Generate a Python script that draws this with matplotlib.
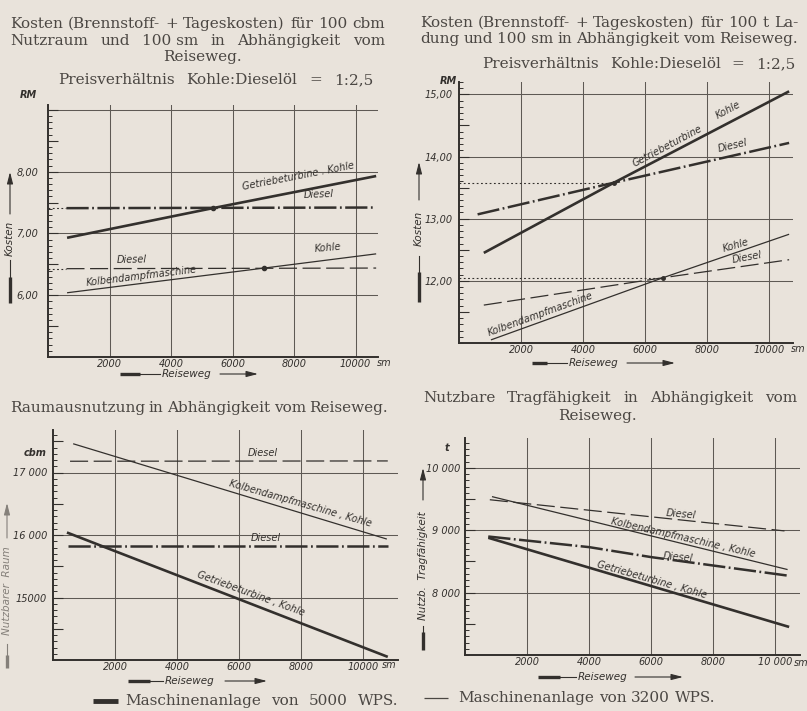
import matplotlib
matplotlib.use('Agg')
import matplotlib.pyplot as plt
from matplotlib.ticker import MultipleLocator

W, H = 807, 711
BG = '#e9e3db'
INK = '#33302d'
GRID = '#5e5954'
TXT = '#4b4743'

plt.rcParams['lines.scale_dashes'] = False
plt.rcParams['font.family'] = ['DejaVu Sans']

# ---------------- data ----------------
x_ticks = [2000, 4000, 6000, 8000, 10000]

# Panel 1: Kosten fuer 100 cbm Nutzraum und 100 sm (RM)
p1_y_ticks = [5.5, 6, 6.5, 7, 7.5, 8, 8.5, 9]
p1_y_ticklabels = ['', '6,00', '', '7,00', '', '8,00', '', '']
p1_y_grid = [6, 7, 8, 9]
p1_x_ticklabels = ['2000', '4000', '6000', '8000', '10000']
p1_getr_kohle_x = [620, 5360, 10670]
p1_getr_kohle_y = [6.93, 7.41, 7.93]
p1_getr_diesel_x = [600, 10670]
p1_getr_diesel_y = [7.41, 7.42]
p1_getr_diesel_ref_x = [0, 600]
p1_getr_diesel_ref_y = [7.41, 7.41]
p1_kolb_kohle_x = [620, 7030, 10670]
p1_kolb_kohle_y = [6.04, 6.44, 6.67]
p1_kolb_diesel_x = [600, 10670]
p1_kolb_diesel_y = [6.43, 6.44]
p1_kolb_diesel_ref_x = [0, 600]
p1_kolb_diesel_ref_y = [6.43, 6.43]
p1_points_x = [5360, 7030]
p1_points_y = [7.41, 6.44]

# Panel 2: Kosten fuer 100 t Ladung und 100 sm (RM)
p2_y_ticks = [11.5, 12, 12.5, 13, 13.5, 14, 14.5, 15]
p2_y_ticklabels = ['', '12,00', '', '13,00', '', '14,00', '', '15,00']
p2_y_grid = [12, 13, 14, 15]
p2_x_ticklabels = ['2000', '4000', '6000', '8000', '10000']
p2_getr_kohle_x = [800, 5000, 10650]
p2_getr_kohle_y = [12.45, 13.58, 15.05]
p2_getr_diesel_x = [600, 5000, 10650]
p2_getr_diesel_y = [13.07, 13.58, 14.22]
p2_kolb_kohle_x = [1030, 6580, 10650]
p2_kolb_kohle_y = [11.05, 12.05, 12.75]
p2_kolb_diesel_x = [800, 6580, 10650]
p2_kolb_diesel_y = [11.61, 12.05, 12.34]
p2_ref1_x = [0, 5000]
p2_ref1_y = [13.58, 13.58]
p2_ref2_x = [0, 6580]
p2_ref2_y = [12.05, 12.05]
p2_points_x = [5000, 6580]
p2_points_y = [13.58, 12.05]

# Panel 3: Nutzbarer Raum (cbm)
p3_y_ticks = [14500, 15000, 15500, 16000, 16500, 17000, 17500]
p3_y_ticklabels = ['', '15000', '', '16 000', '', '17 000', '']
p3_y_grid = [15000, 16000, 17000]
p3_x_ticklabels = ['2000', '4000', '6000', '8000', '10000']
p3_kolb_diesel_x = [550, 10800]
p3_kolb_diesel_y = [17180, 17185]
p3_kolb_kohle_x = [650, 10770]
p3_kolb_kohle_y = [17460, 15935]
p3_getr_diesel_x = [480, 10800]
p3_getr_diesel_y = [15820, 15820]
p3_getr_kohle_x = [450, 10800]
p3_getr_kohle_y = [16040, 14050]

# Panel 4: Nutzbare Tragfaehigkeit (t)
p4_y_ticks = [7500, 8000, 8500, 9000, 9500, 10000]
p4_y_ticklabels = ['', '8 000', '', '9 000', '', '10 000']
p4_y_grid = [8000, 9000, 10000]
p4_x_ticklabels = ['2000', '4000', '6000', '8000', '10 000']
p4_kolb_diesel_x = [800, 10300]
p4_kolb_diesel_y = [9490, 8990]
p4_kolb_kohle_x = [870, 10400]
p4_kolb_kohle_y = [9540, 8370]
p4_getr_diesel_x = [750, 4000, 6000, 10450]
p4_getr_diesel_y = [8900, 8730, 8570, 8270]
p4_getr_kohle_x = [750, 10450]
p4_getr_kohle_y = [8880, 7450]

# ---------------- styles ----------------
THICK = dict(color=INK, lw=1.9, solid_capstyle='butt')
THIN = dict(color=INK, lw=0.9, solid_capstyle='butt')
DASHDOT = dict(color=INK, lw=1.8, dashes=(16, 2.5, 1.3, 2.5), dash_capstyle='butt')
DASHED = dict(color=INK, lw=0.9, dashes=(13, 4), dash_capstyle='butt')
DOTTED = dict(color=INK, lw=0.8, dashes=(1.3, 1.8))

fig = plt.figure(figsize=(W / 100, H / 100), dpi=100, facecolor=BG)


def add_ax(x0, x1, ytop, ybot):
    return fig.add_axes([x0 / W, 1 - ybot / H, (x1 - x0) / W, (ybot - ytop) / H])


def style(ax, xlim, ylim, yt, ytl, ygrid, minor, xtl, ypad):
    ax.set_facecolor('none')
    for s in ['top', 'right']:
        ax.spines[s].set_visible(False)
    for s in ['left', 'bottom']:
        ax.spines[s].set_color(INK)
        ax.spines[s].set_linewidth(1.4)
    ax.set_xlim(*xlim)
    ax.set_ylim(*ylim)
    ax.set_xticks(x_ticks, xtl, fontsize=7, fontstyle='italic', color=INK)
    ax.set_yticks(yt, ytl, fontsize=7, fontstyle='italic', color=INK)
    ax.yaxis.set_minor_locator(MultipleLocator(minor))
    ax.tick_params(axis='x', length=0, pad=1.5)
    ax.tick_params(axis='y', which='major', direction='in', length=7, width=0.8,
                   color=INK, pad=ypad)
    ax.tick_params(axis='y', which='minor', direction='in', length=3, width=0.7,
                   color=INK)
    for v in ygrid:
        ax.axhline(v, color=GRID, lw=0.75, zorder=1)
    for v in x_ticks:
        ax.axvline(v, color=GRID, lw=0.75, zorder=1)


# Panel 1
ax1 = add_ax(48, 378, 105, 357)
style(ax1, (0, 10730), (5.0, 9.08), p1_y_ticks, p1_y_ticklabels, p1_y_grid, 0.1,
      p1_x_ticklabels, 7)
ax1.plot(p1_getr_kohle_x, p1_getr_kohle_y, **THICK)
ax1.plot(p1_getr_diesel_x, p1_getr_diesel_y, **DASHDOT)
ax1.plot(p1_getr_diesel_ref_x, p1_getr_diesel_ref_y, **DOTTED)
ax1.plot(p1_kolb_kohle_x, p1_kolb_kohle_y, **THIN)
ax1.plot(p1_kolb_diesel_x, p1_kolb_diesel_y, **DASHED)
ax1.plot(p1_kolb_diesel_ref_x, p1_kolb_diesel_ref_y, **DOTTED)
ax1.plot(p1_points_x, p1_points_y, 'o', ms=3, mfc=INK, mec=INK, ls='none')

# Panel 2
ax2 = add_ax(459, 793, 82, 343)
style(ax2, (0, 10775), (11.0, 15.2), p2_y_ticks, p2_y_ticklabels, p2_y_grid, 0.1,
      p2_x_ticklabels, 4.5)
ax2.plot(p2_getr_kohle_x, p2_getr_kohle_y, **THICK)
ax2.plot(p2_getr_diesel_x, p2_getr_diesel_y, **DASHDOT)
ax2.plot(p2_kolb_kohle_x, p2_kolb_kohle_y, **THIN)
ax2.plot(p2_kolb_diesel_x, p2_kolb_diesel_y, **DASHED)
ax2.plot(p2_ref1_x, p2_ref1_y, **DOTTED)
ax2.plot(p2_ref2_x, p2_ref2_y, **DOTTED)
ax2.plot(p2_points_x, p2_points_y, 'o', ms=2.5, mfc=INK, mec=INK, ls='none')

# Panel 3
ax3 = add_ax(53, 398, 430, 660)
style(ax3, (0, 11130), (14000, 17680), p3_y_ticks, p3_y_ticklabels, p3_y_grid, 100,
      p3_x_ticklabels, 4.3)
ax3.plot(p3_kolb_diesel_x, p3_kolb_diesel_y, **DASHED)
ax3.plot(p3_kolb_kohle_x, p3_kolb_kohle_y, **THIN)
ax3.plot(p3_getr_diesel_x, p3_getr_diesel_y, **DASHDOT)
ax3.plot(p3_getr_kohle_x, p3_getr_kohle_y, **THICK)

# Panel 4
ax4 = add_ax(465, 800, 438, 655)
style(ax4, (0, 10800), (7000, 10480), p4_y_ticks, p4_y_ticklabels, p4_y_grid, 100,
      p4_x_ticklabels, 3.6)
ax4.plot(p4_kolb_diesel_x, p4_kolb_diesel_y, **DASHED)
ax4.plot(p4_kolb_kohle_x, p4_kolb_kohle_y, **THIN)
ax4.plot(p4_getr_diesel_x, p4_getr_diesel_y, **DASHDOT)
ax4.plot(p4_getr_kohle_x, p4_getr_kohle_y, **THICK)

# ---------------- overlay for text (pixel coordinates) ----------------
ov = fig.add_axes([0, 0, 1, 1])
ov.set_xlim(0, W)
ov.set_ylim(H, 0)
ov.axis('off')
ov.set_zorder(10)
renderer = fig.canvas.get_renderer()

SERIF = dict(fontfamily='DejaVu Serif', fontsize=11, color=TXT)


def justify(words, x0, x1, yb, **kw):
    arts = [ov.text(0, yb, w, ha='left', va='baseline', **kw) for w in words]
    widths = [a.get_window_extent(renderer).width for a in arts]
    gap = (x1 - x0 - sum(widths)) / max(len(words) - 1, 1)
    x = x0
    for a, w in zip(arts, widths):
        a.set_x(x)
        x += w + gap


def center(line, xc, yb, **kw):
    ov.text(xc, yb, line, ha='center', va='baseline', **kw)


# titles
justify(['Kosten', '(Brennstoff-', '+', 'Tageskosten)', 'für', '100', 'cbm'],
        10, 385, 28, **SERIF)
justify(['Nutzraum', 'und', '100 sm', 'in', 'Abhängigkeit', 'vom'], 10, 385, 45, **SERIF)
center('Reiseweg.', 202, 61, **SERIF)
justify(['Preisverhältnis', 'Kohle:Dieselöl', '=', '1:2,5'], 58, 373, 84, **SERIF)

justify(['Kosten', '(Brennstoff-', '+', 'Tageskosten)', 'für', '100', 't', 'La-'],
        420, 798, 27, **SERIF)
justify(['dung', 'und', '100 sm', 'in', 'Abhängigkeit', 'vom', 'Reiseweg.'],
        420, 798, 43, **SERIF)
justify(['Preisverhältnis', 'Kohle:Dieselöl', '=', '1:2,5'], 482, 795, 68, **SERIF)

justify(['Raumausnutzung', 'in', 'Abhängigkeit', 'vom', 'Reiseweg.'], 10, 388, 412,
        **SERIF)

justify(['Nutzbare', 'Tragfähigkeit', 'in', 'Abhängigkeit', 'vom'], 423, 797, 402,
        **SERIF)
center('Reiseweg.', 597, 420, **SERIF)

justify(['Maschinenanlage', 'von', '5000', 'WPS.'], 125, 398, 705, **SERIF)
ov.plot([93, 118], [701, 701], color=INK, lw=3.5, solid_capstyle='butt')
justify(['Maschinenanlage', 'von', '3200', 'WPS.'], 458, 715, 702, **SERIF)
ov.plot([424, 448], [698, 698], color=TXT, lw=0.9, solid_capstyle='butt')

# small axis texts
SANS = dict(fontsize=7, fontstyle='italic', color=INK)
ov.text(28, 95, 'RM', ha='center', va='center', fontweight='bold', **SANS)
ov.text(448, 81, 'RM', ha='center', va='center', fontweight='bold', **SANS)
ov.text(35, 453, 'cbm', ha='center', va='center', fontweight='bold', **SANS)
ov.text(447, 448, 't', ha='center', va='center', fontweight='bold', **SANS)
ov.text(384, 363, 'sm', ha='center', va='center', **SANS)
ov.text(798, 349, 'sm', ha='center', va='center', **SANS)
ov.text(389, 665, 'sm', ha='center', va='center', **SANS)
ov.text(801, 663, 'sm', ha='center', va='center', **SANS)

ARROW = dict(arrowstyle='-|>,head_length=0.7,head_width=0.18', color=INK, lw=0.8,
             shrinkA=0, shrinkB=0, mutation_scale=10)


def xlabel_arrow(b0, b1, xt, a0, a1, y, text):
    ov.plot([b0, b1], [y, y], color=INK, lw=2.4, solid_capstyle='butt')
    ov.plot([b1, xt - 27], [y, y], color=INK, lw=0.8)
    ov.text(xt, y, text, ha='center', va='center', fontsize=7.5, fontstyle='italic',
            color=INK)
    ov.annotate('', xy=(a1, y), xytext=(a0, y), arrowprops=ARROW)


def ylabel_arrow(x, b0, b1, t0, t1, yt, a0, a1, text, fs=7.5, color=INK):
    ov.plot([x, x], [b0, b1], color=color, lw=2.4, solid_capstyle='butt')
    ov.plot([x, x], [t0, t1], color=color, lw=0.8)
    ov.text(x, yt, text, ha='center', va='center', rotation=90, fontsize=fs,
            fontstyle='italic', color=color)
    ov.annotate('', xy=(x, a1), xytext=(x, a0),
                arrowprops=dict(ARROW, color=color))


xlabel_arrow(120, 140, 187, 220, 258, 374, 'Reiseweg')
xlabel_arrow(532, 547, 594, 627, 675, 363, 'Reiseweg')
xlabel_arrow(128, 150, 190, 225, 267, 681, 'Reiseweg')
xlabel_arrow(538, 560, 603, 635, 683, 677, 'Reiseweg')

ylabel_arrow(10, 303, 277, 277, 260, 238, 214, 172, 'Kosten')
ylabel_arrow(419, 302, 272, 272, 256, 228, 200, 162, 'Kosten')
ylabel_arrow(7, 668, 655, 655, 644, 591, 538, 503, 'Nutzbarer  Raum', fs=7.5,
             color='#85807a')
ylabel_arrow(423, 650, 632, 632, 626, 566, 500, 468, 'Nutzb.  Tragfähigkeit')

# line labels
LAB = dict(fontsize=7, fontstyle='italic', color=INK, ha='center', va='center',
           rotation_mode='anchor')
ov.text(298, 176, 'Getriebeturbine . Kohle', rotation=11, **LAB)
ov.text(319, 194, 'Diesel', rotation=2, **LAB)
ov.text(132, 260, 'Diesel', rotation=1, **LAB)
ov.text(141, 276, 'Kolbendampfmaschine', rotation=7, **LAB)
ov.text(328, 248, 'Kohle', rotation=5, **LAB)

ov.text(667, 146, 'Getriebeturbine', rotation=28, **LAB)
ov.text(728, 110, 'Kohle', rotation=28, **LAB)
ov.text(733, 146, 'Diesel', rotation=13, **LAB)
ov.text(736, 245, 'Kohle', rotation=16, **LAB)
ov.text(747, 257, 'Diesel', rotation=10, **LAB)
ov.text(540, 314, 'Kolbendampfmaschine', rotation=20, **LAB)

ov.text(263, 453, 'Diesel', rotation=0, **LAB)
ov.text(300, 504, 'Kolbendampfmaschine , Kohle', rotation=-16, **LAB)
ov.text(266, 538, 'Diesel', rotation=0, **LAB)
ov.text(251, 594, 'Getriebeturbine , Kohle', rotation=-20, **LAB)

ov.text(681, 514, 'Diesel', rotation=-5, **LAB)
ov.text(683, 538, 'Kolbendampfmaschine , Kohle', rotation=-13, **LAB)
ov.text(678, 557, 'Diesel', rotation=-5, **LAB)
ov.text(652, 580, 'Getriebeturbine , Kohle', rotation=-16, **LAB)

fig.savefig('out.png', dpi=100, facecolor=BG)
